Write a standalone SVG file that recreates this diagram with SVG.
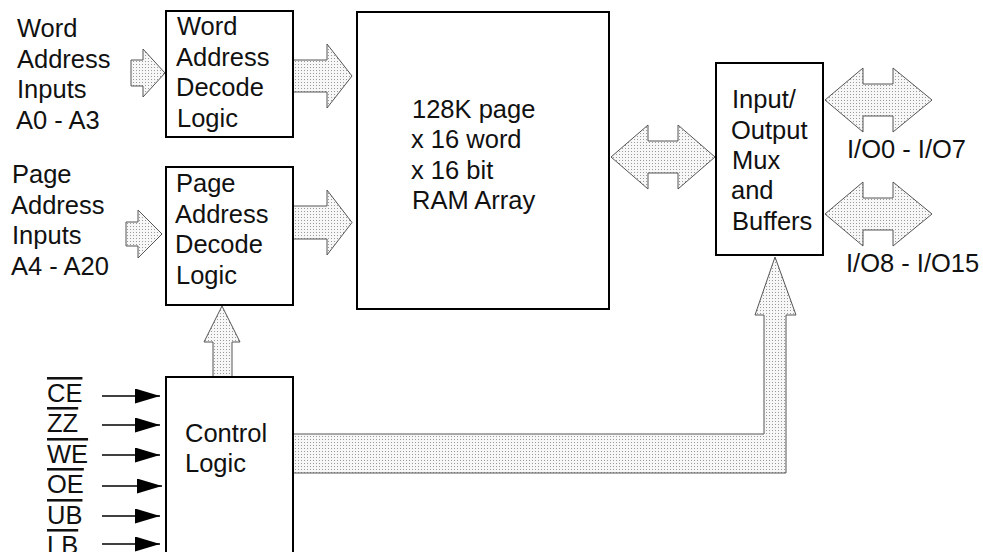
<svg xmlns="http://www.w3.org/2000/svg" width="983" height="552" viewBox="0 0 983 552">
<defs>
<pattern id="dots" width="3" height="3" patternUnits="userSpaceOnUse">
<rect width="3" height="3" fill="#f7f7f7"/>
<rect x="1" y="1" width="1" height="1" fill="#9a9a9a"/>
</pattern>
<marker id="ah" viewBox="0 0 25 15" refX="25" refY="7.5" markerWidth="25" markerHeight="15" markerUnits="userSpaceOnUse" orient="auto">
<path d="M0,0 L25,7.5 L0,15 Z" fill="#000"/>
</marker>
</defs>
<style>
.box{fill:#fff;stroke:#000;stroke-width:2}
.bus{fill:url(#dots);stroke:#555;stroke-width:1}
.sig{stroke:#000;stroke-width:1.5;fill:none;marker-end:url(#ah)}
text{font-family:"Liberation Sans",Arial,sans-serif;font-size:25.5px;fill:#111}
.ov{text-decoration:overline}
</style>
<g id="connectors">
<path class="bus" d="M131,60 L143,60 L143,49 L165,73 L143,97 L143,86 L131,86 Z"/>
<path class="bus" d="M126,222 L138,222 L138,210 L162,234 L138,258 L138,246 L126,246 Z"/>
<path class="bus" d="M293,60 L327,60 L327,44 L352,76 L327,108 L327,92 L293,92 Z"/>
<path class="bus" d="M293,206 L327,206 L327,190 L352,222.5 L327,255 L327,239 L293,239 Z"/>
<path class="bus" d="M611,157 L648,125 L648,141 L678,141 L678,125 L715,157 L678,189 L678,173 L648,173 L648,189 Z"/>
<path class="bus" d="M825,100 L863,68 L863,84 L893,84 L893,68 L932,100 L893,132 L893,116 L863,116 L863,132 Z"/>
<path class="bus" d="M825,214 L863,182 L863,198 L893,198 L893,182 L932,214 L893,246 L893,230 L863,230 L863,246 Z"/>
<path class="bus" d="M213,377 L213,342 L204,342 L222,306 L240,342 L232,342 L232,377 Z"/>
<path class="bus" d="M293,434 L764,434 L764,315 L755,315 L775,257 L796,315 L786,315 L786,473 L293,473 Z"/>
<line class="sig" x1="102" y1="396" x2="160" y2="396"/>
<line class="sig" x1="102" y1="425" x2="160" y2="425"/>
<line class="sig" x1="102" y1="455" x2="160" y2="455"/>
<line class="sig" x1="102" y1="486" x2="162" y2="486"/>
<line class="sig" x1="102" y1="516" x2="160" y2="516"/>
<line class="sig" x1="102" y1="544" x2="160" y2="544"/>
</g>
<g id="word-inputs-label">
<text x="17" y="37">Word</text>
<text x="17" y="67.5">Address</text>
<text x="17" y="98">Inputs</text>
<text x="16" y="128.5">A0 - A3</text>
</g>
<g id="page-inputs-label">
<text x="12" y="183">Page</text>
<text x="11" y="213.5">Address</text>
<text x="12" y="244">Inputs</text>
<text x="11" y="274.5">A4 - A20</text>
</g>
<g id="word-decode">
<rect class="box" x="166" y="11" width="127" height="126"/>
<text x="177" y="35">Word</text>
<text x="176" y="65.5">Address</text>
<text x="176" y="96">Decode</text>
<text x="177" y="126.5">Logic</text>
</g>
<g id="page-decode">
<rect class="box" x="166" y="167" width="127" height="138"/>
<text x="176" y="192">Page</text>
<text x="175" y="222.5">Address</text>
<text x="175" y="253">Decode</text>
<text x="176" y="283.5">Logic</text>
</g>
<g id="ram-array">
<rect class="box" x="357" y="12" width="252" height="297"/>
<text x="412" y="118">128K page</text>
<text x="411" y="148">x 16 word</text>
<text x="411" y="178.5">x 16 bit</text>
<text x="412" y="208.5">RAM Array</text>
</g>
<g id="io-mux">
<rect class="box" x="716" y="63" width="107" height="192"/>
<text x="732" y="108">Input/</text>
<text x="731" y="138.5">Output</text>
<text x="732" y="168.5">Mux</text>
<text x="731" y="199">and</text>
<text x="732" y="229.5">Buffers</text>
</g>
<g id="io-labels">
<text x="847" y="158">I/O0 - I/O7</text>
<text x="846" y="272">I/O8 - I/O15</text>
</g>
<g id="control-logic">
<rect class="box" x="166" y="377" width="127" height="200"/>
<text x="185" y="442">Control</text>
<text x="185" y="472">Logic</text>
</g>
<g id="control-signals">
<text class="ov" x="47" y="402">CE</text>
<text class="ov" x="47" y="432">ZZ</text>
<text class="ov" x="47" y="463">WE</text>
<text class="ov" x="47" y="493">OE</text>
<text class="ov" x="47" y="524">UB</text>
<text class="ov" x="47" y="554">LB</text>
</g>
</svg>
